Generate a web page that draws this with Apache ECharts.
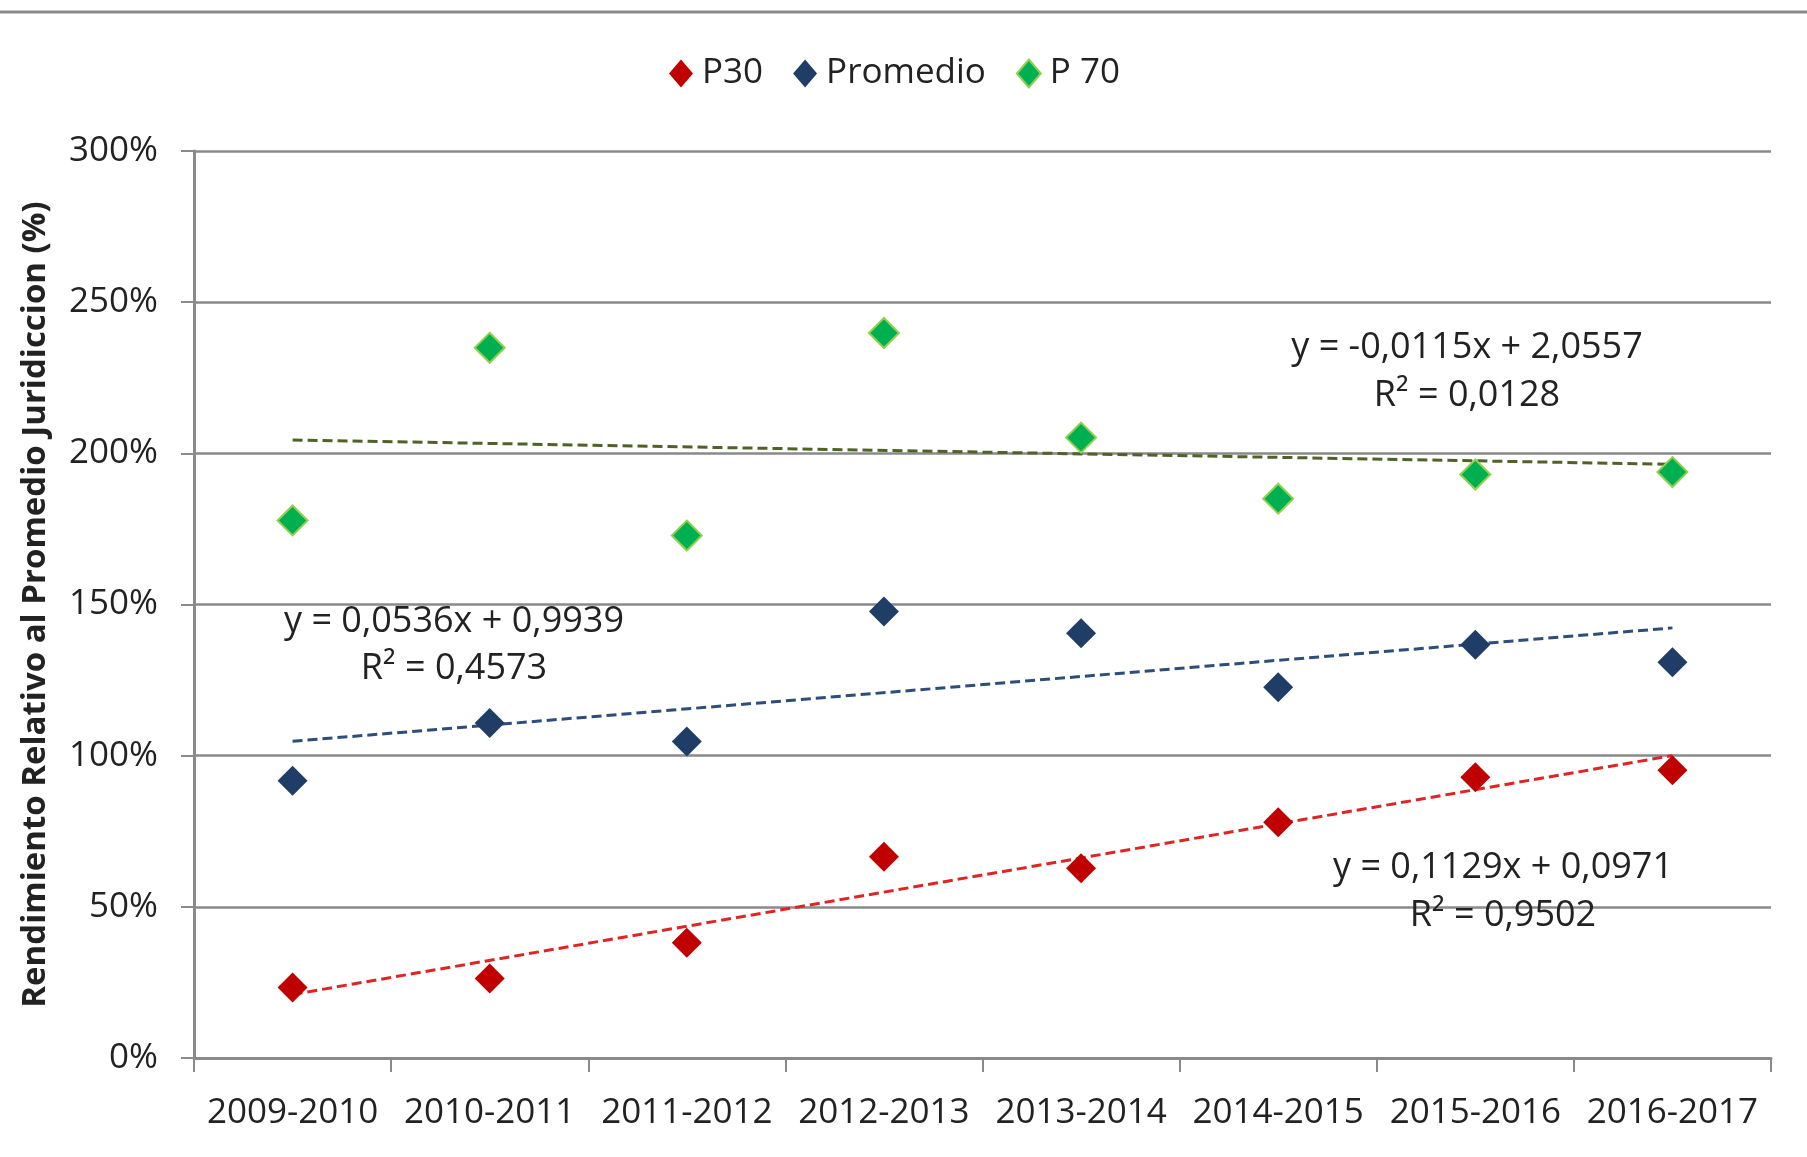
<!DOCTYPE html>
<html>
<head>
<meta charset="utf-8">
<script src="https://cdn.jsdelivr.net/npm/echarts@6/dist/echarts.min.js"></script>
<style>
html,body{margin:0;padding:0;background:#fff;}
#chart{width:1807px;height:1157px;}
</style>
</head>
<body>
<div id="chart"></div>
<script>
var categories = ['2009-2010','2010-2011','2011-2012','2012-2013','2013-2014','2014-2015','2015-2016','2016-2017'];
var seriesNames = ['P30','Promedio','P 70'];
var p30 = [0.233, 0.263, 0.381, 0.666, 0.628, 0.780, 0.929, 0.952];
var promedio = [0.917, 1.108, 1.047, 1.477, 1.405, 1.226, 1.367, 1.309];
var p70 = [1.778, 2.349, 1.728, 2.398, 2.052, 1.850, 1.930, 1.938];
var trendSlope = [0.1129, 0.0536, -0.0115];
var trendIntercept = [0.0971, 0.9939, 2.0557];
var trendLabels = [
  ['y = 0,1129x + 0,0971', 'R\u00b2 = 0,9502'],
  ['y = 0,0536x + 0,9939', 'R\u00b2 = 0,4573'],
  ['y = -0,0115x + 2,0557', 'R\u00b2 = 0,0128']
];
var yTicks = [0, 0.5, 1, 1.5, 2, 2.5, 3];

var markerColors = ['#C00000', '#1F3D66', '#00B050'];
var markerBorders = ['#C00000', '#1F3D66', '#92D050'];
var trendColors = ['#E02424', '#2E4D7B', '#4F6228'];
var FONT = '"Open Sans", "DejaVu Sans", sans-serif';

function trendData(i) {
  var n = categories.length;
  var arr = [];
  for (var k = 0; k < n; k++) arr.push(null);
  arr[0] = trendSlope[i] * 1 + trendIntercept[i];
  arr[n - 1] = trendSlope[i] * n + trendIntercept[i];
  return arr;
}

var dataSets = [p30, promedio, p70];
var series = [];
for (var i = 0; i < 3; i++) {
  series.push({
    name: 'trend' + i,
    type: 'line',
    data: trendData(i),
    connectNulls: true,
    showSymbol: false,
    symbol: 'none',
    silent: true,
    z: 2,
    lineStyle: { color: trendColors[i], width: 3, type: [10, 5] }
  });
}
for (var j = 0; j < 3; j++) {
  series.push({
    name: seriesNames[j],
    type: 'scatter',
    data: dataSets[j],
    symbol: 'diamond',
    symbolSize: [30, 30],
    z: 5,
    itemStyle: { opacity: 1, color: markerColors[j], borderColor: markerBorders[j], borderWidth: j === 2 ? 2 : 0 }
  });
}

var chart = echarts.init(document.getElementById('chart'), null, { renderer: 'canvas' });
chart.setOption({
  animation: false,
  backgroundColor: '#ffffff',
  textStyle: { fontFamily: FONT },
  legend: {
    data: seriesNames.map(function (n, k) {
      return { name: n, icon: 'diamond', itemStyle: { opacity: 1, color: markerColors[k], borderColor: markerBorders[k], borderWidth: k === 2 ? 2 : 0 } };
    }),
    top: 51,
    left: 664,
    itemWidth: 24,
    itemHeight: 28,
    itemGap: 30,
    textStyle: { fontFamily: FONT, fontSize: 35, color: '#222', padding: [0, 0, 0, 4] }
  },
  grid: { left: 194, right: 36, top: 151, bottom: 99, containLabel: false },
  xAxis: {
    type: 'category',
    data: categories,
    boundaryGap: true,
    axisLine: { show: true, lineStyle: { color: '#8a8a8a', width: 3 } },
    axisTick: { show: true, length: 14, alignWithLabel: false, lineStyle: { color: '#8a8a8a', width: 2 } },
    axisLabel: { margin: 38, fontFamily: FONT, fontSize: 35, color: '#222', interval: 0 },
    splitLine: { show: false }
  },
  yAxis: {
    type: 'value',
    min: yTicks[0],
    max: yTicks[yTicks.length - 1],
    interval: 0.5,
    name: 'Rendimiento Relativo al Promedio Juridiccion (%)',
    nameLocation: 'middle',
    nameGap: 142,
    nameRotate: 90,
    nameTextStyle: { fontFamily: FONT, fontSize: 33, fontWeight: 'bold', color: '#222' },
    axisLine: { show: true, lineStyle: { color: '#8a8a8a', width: 3 } },
    axisTick: { show: true, length: 13, lineStyle: { color: '#8a8a8a', width: 2 } },
    axisLabel: {
      margin: 36, fontFamily: FONT, fontSize: 35, color: '#222',
      formatter: function (v) { return Math.round(v * 100) + '%'; }
    },
    splitLine: { show: true, lineStyle: { color: '#8a8a8a', width: 2.5 } }
  },
  graphic: [
    { type: 'line', shape: { x1: 0, y1: 12, x2: 1807, y2: 12 }, style: { stroke: '#8a8a8a', lineWidth: 3 }, silent: true },
    { type: 'text', x: 1503, y: 868, style: { text: trendLabels[0][0], font: '36px ' + FONT, fill: '#222', textAlign: 'center', textVerticalAlign: 'middle' }, z: 10 },
    { type: 'text', x: 1503, y: 916, style: { text: trendLabels[0][1], font: '36px ' + FONT, fill: '#222', textAlign: 'center', textVerticalAlign: 'middle' }, z: 10 },
    { type: 'text', x: 454, y: 622, style: { text: trendLabels[1][0], font: '36px ' + FONT, fill: '#222', textAlign: 'center', textVerticalAlign: 'middle' }, z: 10 },
    { type: 'text', x: 454, y: 669, style: { text: trendLabels[1][1], font: '36px ' + FONT, fill: '#222', textAlign: 'center', textVerticalAlign: 'middle' }, z: 10 },
    { type: 'text', x: 1467, y: 348, style: { text: trendLabels[2][0], font: '36px ' + FONT, fill: '#222', textAlign: 'center', textVerticalAlign: 'middle' }, z: 10 },
    { type: 'text', x: 1467, y: 396, style: { text: trendLabels[2][1], font: '36px ' + FONT, fill: '#222', textAlign: 'center', textVerticalAlign: 'middle' }, z: 10 }
  ],
  series: series
});
</script>
</body>
</html>
